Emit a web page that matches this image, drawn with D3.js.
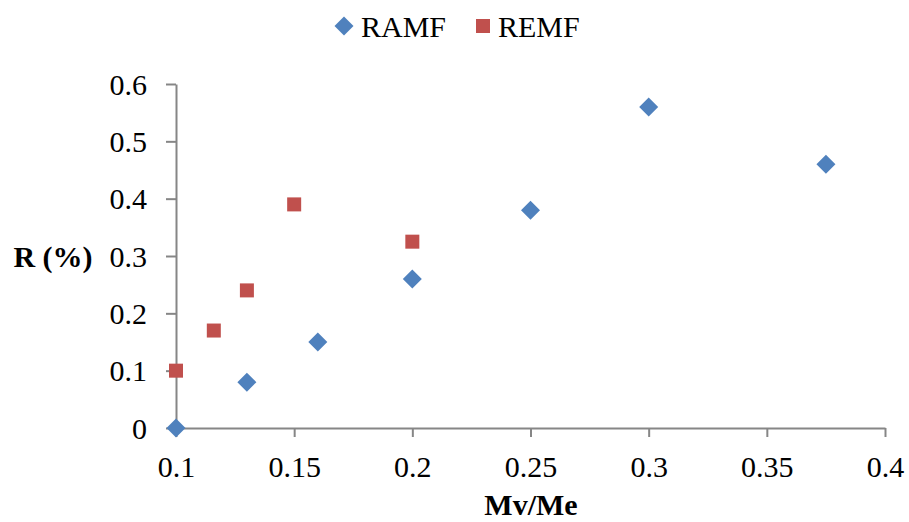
<!DOCTYPE html>
<html>
<head>
<meta charset="utf-8">
<script src="https://cdn.jsdelivr.net/npm/d3@7"></script>
<style>
  html, body { margin: 0; padding: 0; background: #fff; }
  svg text { font-family: "Liberation Serif", "Times New Roman", serif; fill: #000; }
</style>
</head>
<body>
<svg id="chart" width="909" height="522"></svg>
<script>
// Series data
const ramfX = [0.1, 0.13, 0.16, 0.2, 0.25, 0.3, 0.375];
const ramfY = [0, 0.08, 0.15, 0.26, 0.38, 0.56, 0.46];
const remfX = [0.1, 0.116, 0.13, 0.15, 0.2];
const remfY = [0.1, 0.17, 0.24, 0.39, 0.325];

const xTicks = [0.1, 0.15, 0.2, 0.25, 0.3, 0.35, 0.4];
const yTicks = [0, 0.1, 0.2, 0.3, 0.4, 0.5, 0.6];
const seriesNames = ["RAMF", "REMF"];
const seriesColors = ["#4F81BD", "#C0504D"];

const svg = d3.select("#chart");
const plotLeft = 176, plotRight = 885, plotTop = 84, plotBottom = 428;
const fontSize = 30;

const x = d3.scaleLinear().domain([0.1, 0.4]).range([plotLeft, plotRight]);
const y = d3.scaleLinear().domain([0, 0.6]).range([plotBottom, plotTop]);

const axisColor = "#868686";

// x axis
const gx = svg.append("g").attr("transform", `translate(0,${plotBottom})`)
  .call(d3.axisBottom(x).tickValues(xTicks).tickSizeInner(9).tickSizeOuter(0)
    .tickFormat(d => String(+d.toFixed(2))));
gx.select(".domain").attr("stroke", axisColor).attr("stroke-width", 2);
gx.selectAll(".tick line").attr("stroke", axisColor).attr("stroke-width", 2);
gx.selectAll(".tick text").attr("font-size", fontSize).attr("dy", 0).attr("y", 49)
  .style("font-family", "'Liberation Serif', serif");

// y axis
const gy = svg.append("g").attr("transform", `translate(${plotLeft},0)`)
  .call(d3.axisLeft(y).tickValues(yTicks).tickSizeInner(10).tickSizeOuter(0)
    .tickFormat(d => String(+d.toFixed(1))));
gy.select(".domain").attr("stroke", axisColor).attr("stroke-width", 2);
gy.selectAll(".tick line").attr("stroke", axisColor).attr("stroke-width", 2);
gy.selectAll(".tick text").attr("font-size", fontSize).attr("x", -29).attr("dy", "0.34em")
  .style("font-family", "'Liberation Serif', serif");

// axis titles
svg.append("text").attr("x", 531).attr("y", 515).attr("text-anchor", "middle")
  .attr("font-size", fontSize).attr("font-weight", "bold").text("Mv/Me");
svg.append("text").attr("x", 53).attr("y", 267).attr("text-anchor", "middle")
  .attr("font-size", fontSize).attr("font-weight", "bold").text("R (%)");

// diamond path centred on (cx, cy)
const dSize = 9.5;
const diamondPath = (cx, cy) =>
  `M${cx},${cy - dSize}L${cx + dSize},${cy}L${cx},${cy + dSize}L${cx - dSize},${cy}Z`;

// RAMF markers (diamonds)
svg.append("g").selectAll("path").data(ramfX.map((v, i) => [v, ramfY[i]])).join("path")
  .attr("d", d => diamondPath(x(d[0]), y(d[1])))
  .attr("fill", seriesColors[0]);

// REMF markers (squares)
const sHalf = 7;
svg.append("g").selectAll("rect").data(remfX.map((v, i) => [v, remfY[i]])).join("rect")
  .attr("x", d => x(d[0]) - sHalf).attr("y", d => y(d[1]) - sHalf)
  .attr("width", sHalf * 2).attr("height", sHalf * 2)
  .attr("fill", seriesColors[1]);

// legend
const lg = svg.append("g");
lg.append("path").attr("d", diamondPath(344, 26)).attr("fill", seriesColors[0]);
lg.append("text").attr("x", 361).attr("y", 37).attr("font-size", fontSize).text(seriesNames[0]);
lg.append("rect").attr("x", 483 - sHalf).attr("y", 26 - sHalf).attr("width", sHalf * 2).attr("height", sHalf * 2)
  .attr("fill", seriesColors[1]);
lg.append("text").attr("x", 498).attr("y", 37).attr("font-size", fontSize).text(seriesNames[1]);
</script>
</body>
</html>
